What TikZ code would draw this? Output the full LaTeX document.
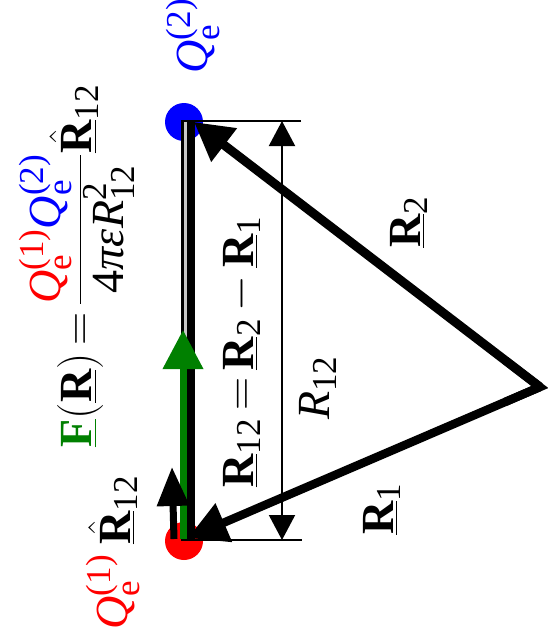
\RequirePackage{fix-cm}
\documentclass[tikz,border=0pt]{standalone}
\usepackage{amsmath}
\usepackage{fontspec}
\setmainfont{Liberation Serif}
\usetikzlibrary{arrows.meta,calc}
\definecolor{fgreen}{RGB}{0,128,0}
\definecolor{gapgray}{RGB}{200,200,200}
\DeclareMathSizes{46}{46}{35}{28}
\newcommand{\bvR}{\underline{\text{\bfseries R}}}
\newcommand{\tQ}{\text{\itshape Q}}
\newcommand{\tsub}[1]{\text{#1}}
\thickmuskip=3mu plus 1mu
\medmuskip=3mu plus 1mu
\begin{document}
\begin{tikzpicture}[x=1pt,y=-1pt,
  font=\fontsize{46}{54}\selectfont,
  lbl/.style={rotate=90,inner sep=0pt},
  dot/.style={circle,inner sep=0pt,minimum size=38pt},
  vec/.style={line width=8.5pt},
  bigtip/.style={-{Triangle[length=39pt,width=40pt]}},
  dimtip/.style={{Triangle[length=25pt,width=26pt]}-{Triangle[length=25pt,width=26pt]}}]
\useasboundingbox (0,0) rectangle (547,643);
% charges
\node[dot,fill=red] (q1) at (184,541) {};
\node[dot,fill=blue] (q2) at (184,122) {};
\coordinate (O) at (540,387);
\coordinate (P1) at (188,538);
\coordinate (P2) at (194,122);
% frame and R12 vector
\coordinate (T1) at (301,121);
\coordinate (T0) at (182.5,121);
\coordinate (B0) at (182.5,540);
\coordinate (B1) at (302,540);
\draw[line width=3pt,gapgray] (185.5,122) -- (185.5,539);
\draw[line width=2.6pt] (T1) -- (T0) -- (B0) -- (B1);
\coordinate (V0) at (191,540);
\coordinate (V1) at (191,121);
\draw[line width=8pt] (V0) -- (V1);
% force and unit vector
\coordinate (F0) at (183,539);
\coordinate (F1) at (183,330);
\draw[fgreen,line width=7pt,-{Triangle[length=39pt,width=39pt]}] (F0) -- (F1);
\coordinate (U0) at (174,539);
\coordinate (U1) at (172,467);
\draw[line width=7pt,-{Triangle[length=39pt,width=31pt]}] (U0) -- (U1);
% dimension
\coordinate (D1) at (282,121);
\coordinate (D0) at (282,540);
\draw[line width=2pt,dimtip] (D1) -- (D0);
% position vectors
\draw[vec,line join=miter] ($(O)!0.1!(P1)$) -- (O) -- ($(O)!0.1!(P2)$);
\draw[vec,bigtip] (O) -- (P1);
\draw[line width=9pt,-{Triangle[length=38pt,width=40pt]}] (O) -- (P2);
% labels
\node[lbl,text=blue] (lq2) at (193,36) {$\tQ_{\tsub{e}}^{\tsub{(2)}}$};
\node[lbl,text=red] (lq1) at (113,592) {$\tQ_{\tsub{e}}^{\tsub{(1)}}$};
\node[lbl] (lu) at (113,510) {$\hat{\bvR}_{\tsub{12}}$};
\node[lbl] (lf) at (77,266) {$\color{fgreen}\underline{\text{\bfseries F}}\color{black}(\bvR)=\dfrac{\color{red}\tQ_{\tsub{e}}^{\tsub{(1)}}\color{blue}\tQ_{\tsub{e}}^{\tsub{(2)}}}{\text{4\itshape πε}\text{\itshape R}_{\tsub{12}}^{\tsub{2}}}\hat{\bvR}_{\tsub{12}}$};
\node[lbl] (lr12) at (242,352) {$\bvR_{\tsub{12}}=\bvR_{\tsub{2}}-\bvR_{\tsub{1}}$};
\node[lbl] (ld) at (318,388) {$\text{\itshape R}_{\tsub{12}}$};
\node[lbl] (lr2) at (409,222) {$\bvR_{\tsub{2}}$};
\node[lbl] (lr1) at (382,509) {$\bvR_{\tsub{1}}$};
\end{tikzpicture}
\end{document}
